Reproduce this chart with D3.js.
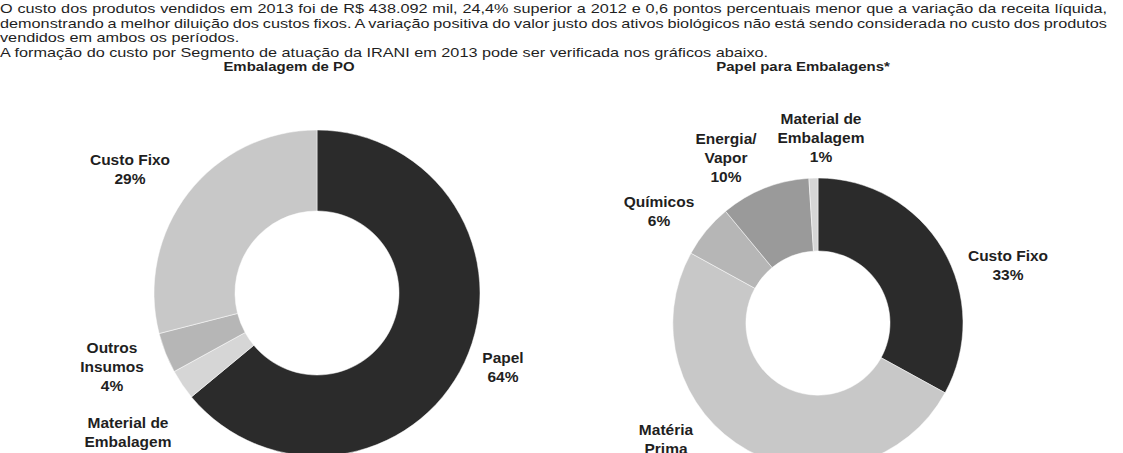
<!DOCTYPE html>
<html>
<head>
<meta charset="utf-8">
<script src="https://cdn.jsdelivr.net/npm/d3@7"></script>
<style>
  html, body { margin: 0; padding: 0; background: #fff; }
  svg { display: block; }
  text { font-family: "Liberation Sans", Arial, sans-serif; fill: #1f1f1f; }
</style>
</head>
<body>
<div id="chart"></div>
<script>
// Texto introdutório (uma entrada por linha, como no original)
const introLines = [
  "O custo dos produtos vendidos em 2013 foi de R$ 438.092 mil, 24,4% superior a 2012 e 0,6 pontos percentuais menor que a variação da receita líquida,",
  "demonstrando a melhor diluição dos custos fixos. A variação positiva do valor justo dos ativos biológicos não está sendo considerada no custo dos produtos",
  "vendidos em ambos os períodos.",
  "A formação do custo por Segmento de atuação da IRANI em 2013 pode ser verificada nos gráficos abaixo."
];
const introJustified = [true, true, false, false];

// Embalagem de PO
const poTitle = "Embalagem de PO";
const poCategories = ["Papel", "Material de Embalagem", "Outros Insumos", "Custo Fixo"];
const poValues = [64, 3, 4, 29];
const poLabelLines = [["Papel"], ["Material de", "Embalagem"], ["Outros", "Insumos"], ["Custo Fixo"]];

// Papel para Embalagens
const ppeTitle = "Papel para Embalagens*";
const ppeCategories = ["Custo Fixo", "Matéria Prima", "Químicos", "Energia/Vapor", "Material de Embalagem"];
const ppeValues = [33, 50, 6, 10, 1];
const ppeLabelLines = [["Custo Fixo"], ["Matéria", "Prima"], ["Químicos"], ["Energia/", "Vapor"], ["Material de", "Embalagem"]];

const width = 1123, height = 453;

const svg = d3.select("#chart").append("svg")
  .attr("width", width)
  .attr("height", height);

// ---- paragraph (text is horizontally stretched in the source) ----
const bodySize = 12.5, bodyStretch = 1.3, lineStep = 14.5, justifyWidth = 1107;

introLines.forEach((line, i) => {
  const t = svg.append("text")
    .attr("transform", `translate(0, ${13 + i * lineStep}) scale(${bodyStretch}, 1)`)
    .style("font-size", bodySize + "px")
    .text(line);
  if (introJustified[i]) {
    const natural = t.node().getComputedTextLength();
    const spaces = (line.match(/ /g) || []).length;
    const extra = (justifyWidth / bodyStretch - natural) / spaces;
    t.style("word-spacing", extra + "px");
  }
});

// ---- titles ----
const titleY = 71;
[[poTitle, 289], [ppeTitle, 803]].forEach(([txt, x]) => {
  svg.append("text")
    .attr("transform", `translate(${x}, ${titleY}) scale(1.15, 1)`)
    .attr("text-anchor", "middle")
    .style("font-size", "13px")
    .style("font-weight", "bold")
    .text(txt);
});

// ---- donuts ----
function drawDonut({ categories, values, labelLines, colors, cx, cy, outer, inner, labelAt }) {
  const pie = d3.pie().sort(null).value(d => d);
  const arc = d3.arc().innerRadius(inner).outerRadius(outer);
  const color = d3.scaleOrdinal().domain(categories).range(colors);

  const g = svg.append("g").attr("transform", `translate(${cx}, ${cy})`);

  g.selectAll("path")
    .data(pie(values))
    .join("path")
    .attr("d", arc)
    .attr("fill", (d, i) => color(categories[i]))
    .attr("stroke", "#fff")
    .attr("stroke-width", 0.5);

  // data labels: name lines + percentage
  categories.forEach((c, i) => {
    const pos = labelAt[i];
    const lines = [...labelLines[i], values[i] + "%"];
    const t = svg.append("text")
      .attr("text-anchor", "middle")
      .style("font-size", "15.5px")
      .style("font-weight", "bold");
    lines.forEach((ln, j) => {
      t.append("tspan")
        .attr("x", pos[0])
        .attr("y", pos[1] + j * 19)
        .text(ln);
    });
  });
}

drawDonut({
  categories: poCategories,
  values: poValues,
  labelLines: poLabelLines,
  colors: ["#2b2b2b", "#d6d6d6", "#b6b6b6", "#c8c8c8"],
  cx: 317, cy: 293, outer: 163, inner: 82,
  // first-line baseline of each label
  labelAt: [[503, 363], [128, 428], [112, 353], [130, 165]]
});

drawDonut({
  categories: ppeCategories,
  values: ppeValues,
  labelLines: ppeLabelLines,
  colors: ["#2b2b2b", "#c8c8c8", "#b6b6b6", "#9a9a9a", "#d6d6d6"],
  cx: 818, cy: 323, outer: 145, inner: 72,
  labelAt: [[1008, 261], [666, 435], [659, 207], [726, 144], [821, 124]]
});
</script>
</body>
</html>
